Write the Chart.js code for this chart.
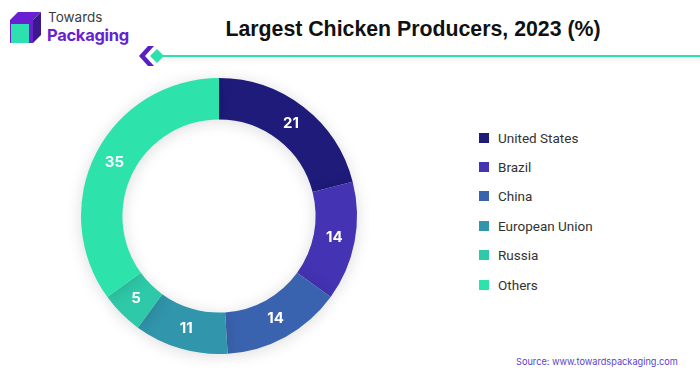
<!DOCTYPE html>
<html>
<head>
<meta charset="utf-8">
<script src="https://cdn.jsdelivr.net/npm/chart.js@4.4.0/dist/chart.umd.min.js"></script>
<style>
    body { margin: 0; background: #fff; font-family: Inter, Roboto, "Open Sans", sans-serif; }
    #page { position: relative; width: 700px; height: 375px; overflow: hidden; background: #fff; }
    #logo { position: absolute; left: 6px; top: 8px; }
    #brand1 { position: absolute; left: 48px; top: 9px; font-size: 13.5px; color: #3c3c3c; }
    #brand2 { position: absolute; left: 47px; top: 25px; font-size: 16.5px; font-weight: 700; color: #6a1fd1; letter-spacing: -0.3px; }
    #title { position: absolute; left: 160px; width: 506px; top: 17px; text-align: center; font-family: "Liberation Sans", Arial, sans-serif; font-size: 21.3px; font-weight: 700; color: #111; }
    #deco { position: absolute; left: 0; top: 40px; }
    #chartBox { position: absolute; left: 66px; top: 63px; width: 306px; height: 306px; }
    #legend { position: absolute; left: 479px; top: 123px; }
    .item { height: 29.4px; display: flex; align-items: center; font-family: Roboto, sans-serif; font-size: 13.5px; color: #333; }
    .item span.box { width: 10px; height: 10px; margin-right: 9px; }
    #source { position: absolute; left: 516px; top: 356px; font-size: 9.2px; color: #5a3fd0; }
</style>
</head>
<body>
<div id="page">
    <svg id="logo" width="40" height="40" viewBox="0 0 40 40">
        <polygon points="4,12 12,4 35,4 27,12" fill="#6a1fd1"/>
        <polygon points="27,12 35,4 35,27 27,35" fill="#3a1a8a"/>
        <rect x="4" y="12" width="23" height="23" fill="#6a1fd1"/>
        <rect x="5" y="16" width="18" height="19" fill="#2de0b0"/>
    </svg>
    <div id="brand1">Towards</div>
    <div id="brand2">Packaging</div>
    <div id="title">Largest Chicken Producers, 2023 (%)</div>
    <svg id="deco" width="700" height="32">
        <defs>
            <linearGradient id="fade" x1="0" y1="0" x2="0" y2="1">
                <stop offset="0" stop-color="#ececec" stop-opacity="0.8"/>
                <stop offset="1" stop-color="#ffffff" stop-opacity="0"/>
            </linearGradient>
        </defs>
        <rect x="160" y="17" width="540" height="10" fill="url(#fade)"/>
        <polygon points="148,6 154,6 145,16 154,26 148,26 139,16" fill="#5a1fc0"/>
        <polygon points="157,9 164,16 157,23 150,16" fill="#2de0b0"/>
        <rect x="163" y="15" width="537" height="2" fill="#2de0b0"/>
    </svg>
    <div id="chartBox"><canvas id="myChart"></canvas></div>
    <div id="legend"></div>
    <div id="source">Source: www.towardspackaging.com</div>
</div>
<script>
    // datos del grafico
    var categorias = ['United States', 'Brazil', 'China', 'European Union', 'Russia', 'Others'];
    var valores = [21, 14, 14, 11, 5, 35];
    var colores = ['#1e1b7b', '#4433b2', '#3a63af', '#3195ab', '#2ec9a8', '#2de3ab'];

    // leyenda en html
    var legend = document.getElementById('legend');
    categorias.forEach(function (c, i) {
        var div = document.createElement('div');
        div.className = 'item';
        div.innerHTML = '<span class="box" style="background:' + colores[i] + '"></span>' + c;
        legend.appendChild(div);
    });

    // sombra suave alrededor del anillo
    var sombra = {
        id: 'sombra',
        beforeDatasetDraw: function (chart) {
            var ctx = chart.ctx;
            ctx.save();
            ctx.shadowColor = 'rgba(0,0,0,0.14)';
            ctx.shadowBlur = 16;
            ctx.shadowOffsetX = 0;
            ctx.shadowOffsetY = 2;
        },
        afterDatasetDraw: function (chart) {
            chart.ctx.restore();
        }
    };

    // etiquetas con los valores
    var etiquetas = {
        id: 'etiquetas',
        afterDatasetsDraw: function (chart) {
            var ctx = chart.ctx;
            var meta = chart.getDatasetMeta(0);
            ctx.save();
            ctx.fillStyle = '#fff';
            ctx.font = 'bold 15px Inter, Roboto, sans-serif';
            ctx.textAlign = 'center';
            ctx.textBaseline = 'middle';
            meta.data.forEach(function (arc, i) {
                var p = arc.tooltipPosition();
                ctx.fillText(valores[i], p.x, p.y);
            });
            ctx.restore();
        }
    };

    var ctx = document.getElementById('myChart').getContext('2d');
    var myChart = new Chart(ctx, {
        type: 'doughnut',
        data: {
            labels: categorias,
            datasets: [{
                data: valores,
                backgroundColor: colores,
                borderWidth: 0
            }]
        },
        options: {
            responsive: true,
            maintainAspectRatio: false,
            animation: false,
            cutout: '70%',
            layout: { padding: 15 },
            plugins: {
                legend: { display: false },
                tooltip: { enabled: false }
            }
        },
        plugins: [sombra, etiquetas]
    });
</script>
</body>
</html>
